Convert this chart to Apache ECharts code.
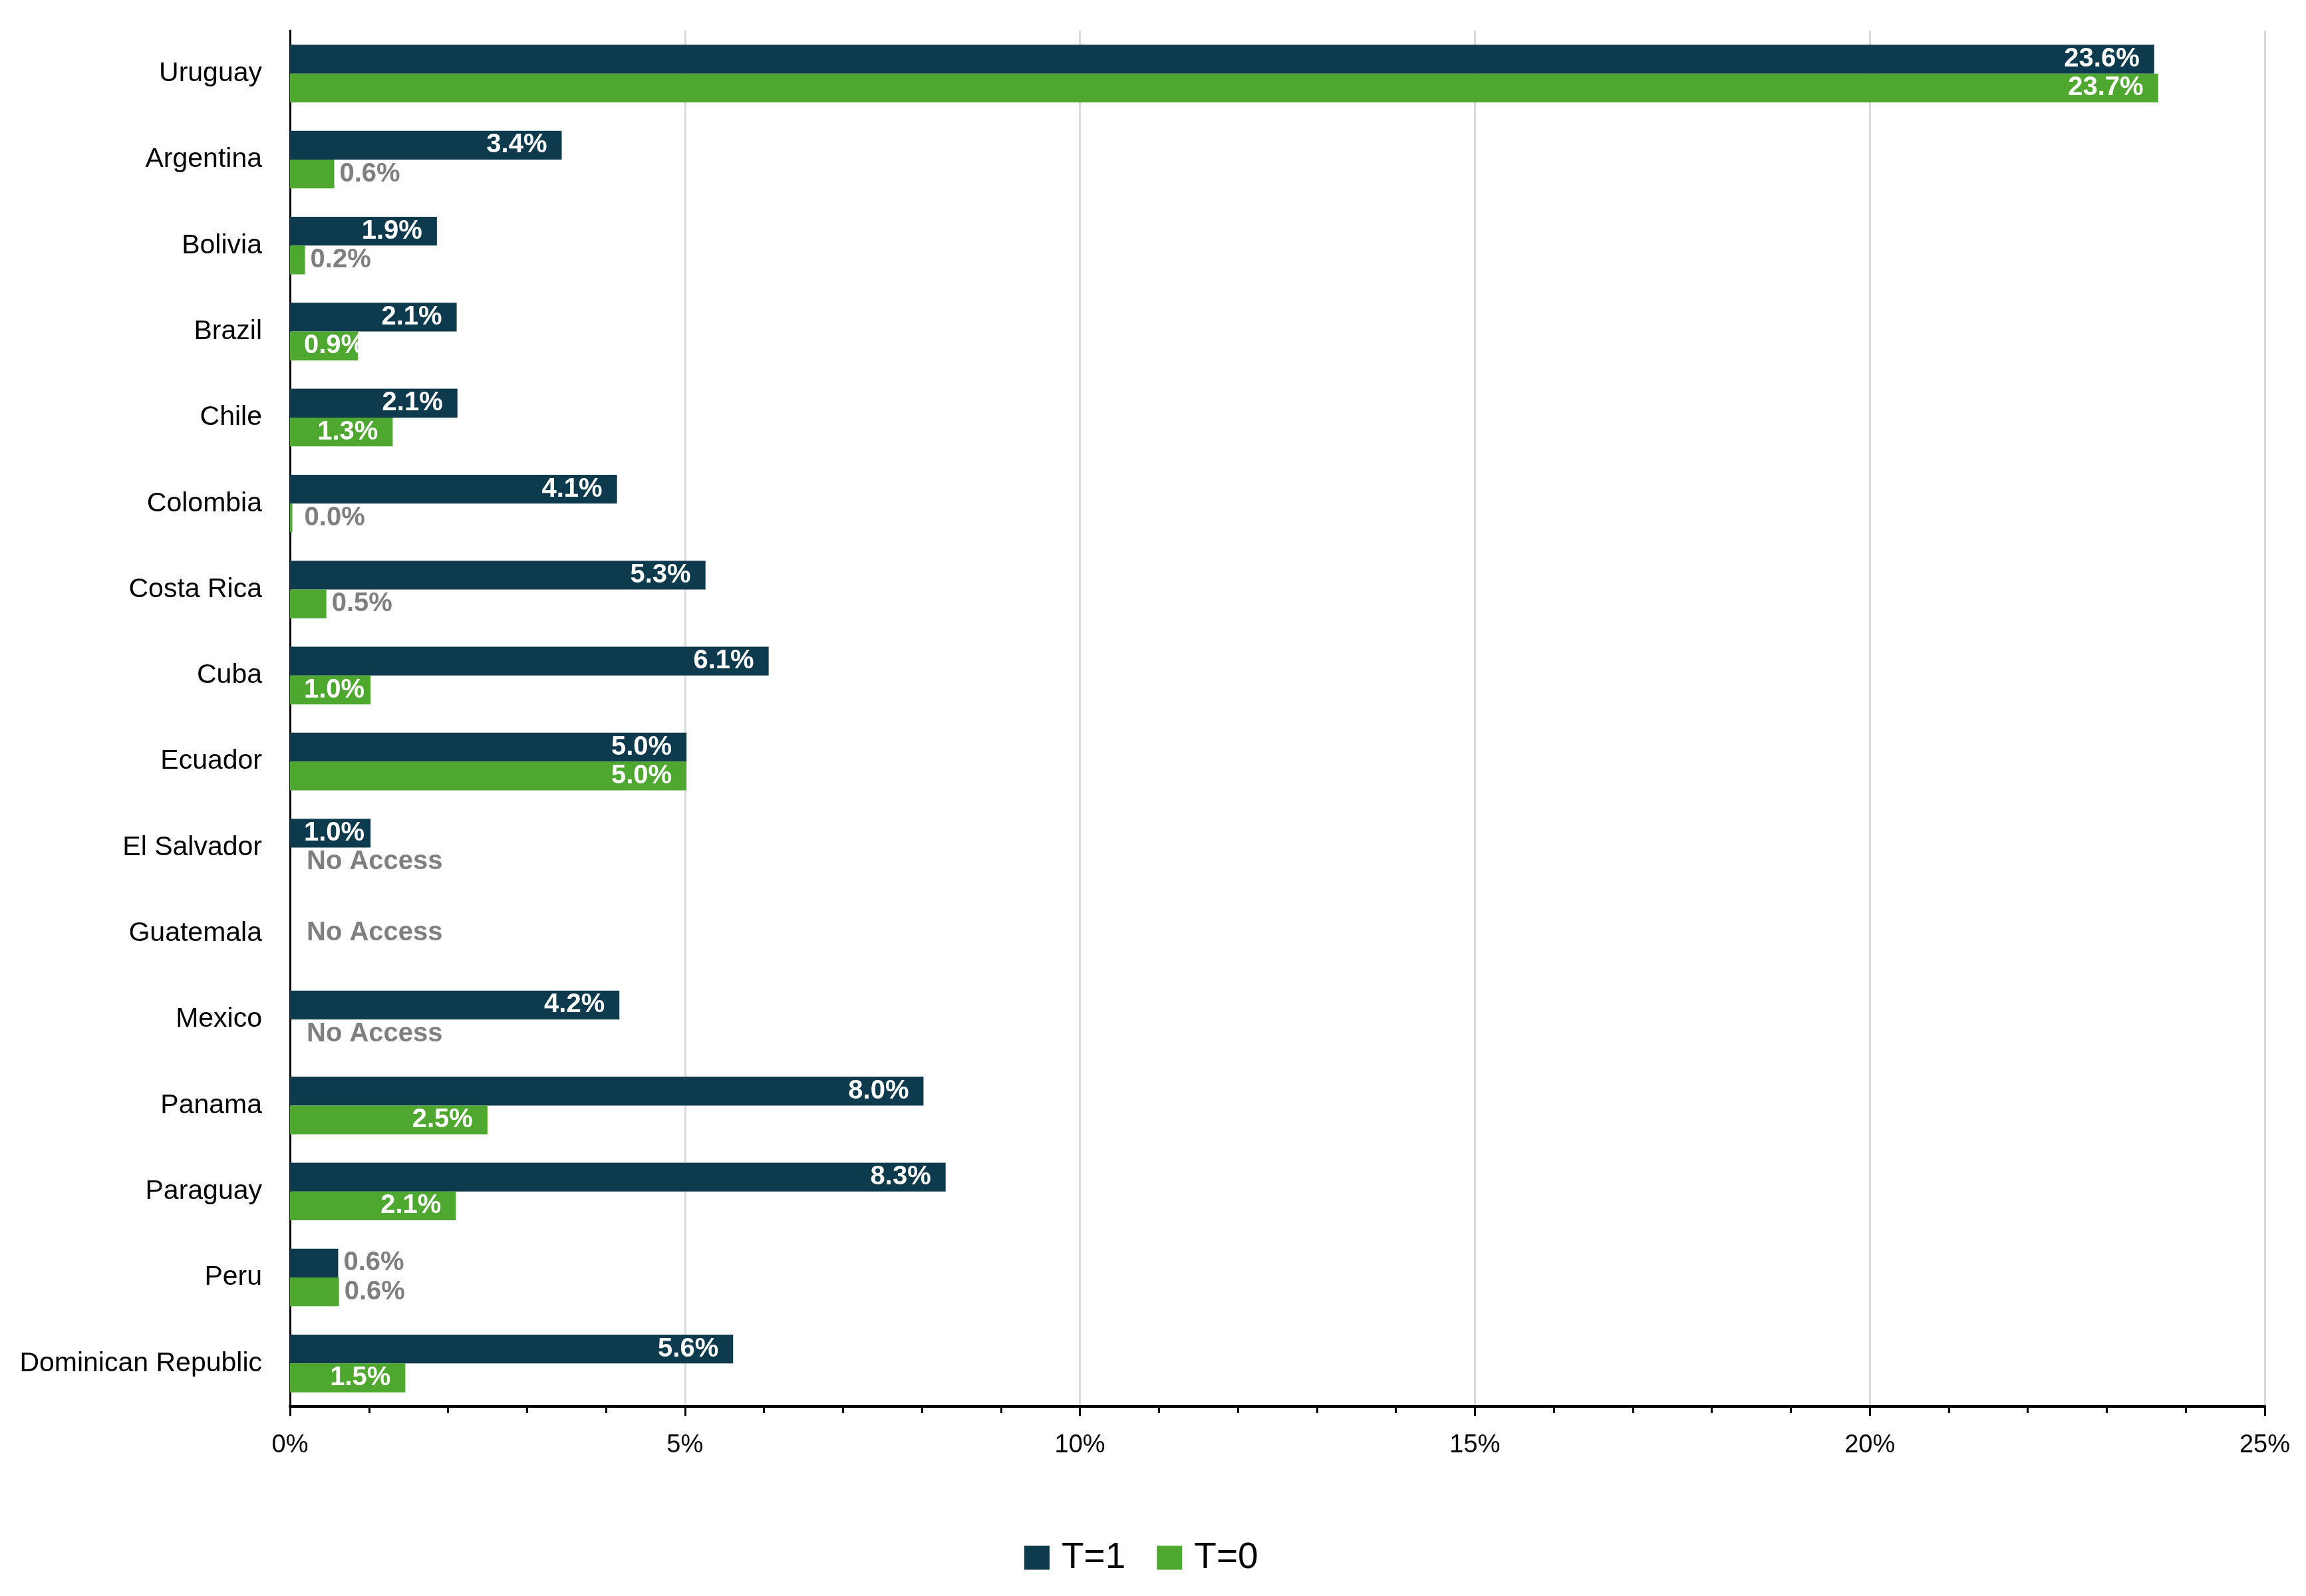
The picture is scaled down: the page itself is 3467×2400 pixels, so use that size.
<!DOCTYPE html>
<html>
<head>
<meta charset="utf-8">
<script src="https://cdn.jsdelivr.net/npm/echarts@6/dist/echarts.min.js"></script>
<style>
html,body{margin:0;padding:0;background:#fff;}
#chart{width:3467px;height:2400px;}
</style>
</head>
<body>
<div id="chart"></div>
<script>
const categories = ['Uruguay','Argentina','Bolivia','Brazil','Chile','Colombia','Costa Rica','Cuba','Ecuador','El Salvador','Guatemala','Mexico','Panama','Paraguay','Peru','Dominican Republic'];
const seriesNames = ['T=1','T=0'];
// null = "No Access"
const t1Values = [23.6, 3.44, 1.86, 2.11, 2.12, 4.14, 5.26, 6.06, 5.02, 1.02, null, 4.17, 8.02, 8.3, 0.61, 5.61];
const t0Values = [23.65, 0.56, 0.19, 0.86, 1.30, 0.03, 0.46, 1.02, 5.02, null, null, null, 2.50, 2.10, 0.62, 1.46];
const xTicks = [0, 5, 10, 15, 20, 25];
const noAccessText = 'No Access';

const DARK = '#0e3a4e';
const GREEN = '#4ea72e';
const GRAY = '#7f7f7f';
const FONT = 'Liberation Sans, Arial, sans-serif';

function labelFor(v, isGuatemalaCenter) {
  const base = {show: true, fontFamily: FONT, fontWeight: 'bold', fontSize: 40};
  if (v === null) {
    return Object.assign(base, {position: 'right', distance: 25, color: GRAY,
      formatter: noAccessText, offset: isGuatemalaCenter ? [0, -22] : [0, 0]});
  }
  const txt = (Math.round(v * 10 + 1e-6) / 10).toFixed(1) + '%';
  if (v < 0.1) return Object.assign(base, {position: 'right', distance: 18, color: GRAY, formatter: txt});
  if (v < 0.8) return Object.assign(base, {position: 'right', distance: 8, color: GRAY, formatter: txt});
  if (v < 1.2) return Object.assign(base, {position: 'insideLeft', distance: 21, color: '#fff', formatter: txt});
  return Object.assign(base, {position: 'insideRight', distance: 22, color: '#fff', formatter: txt});
}

function buildData(values, otherValues, isT0) {
  return values.map((v, i) => {
    if (v === null) {
      const both = otherValues[i] === null;
      if (both && !isT0) return {value: 0, label: {show: false}};
      return {value: 0, label: labelFor(null, both)};
    }
    return {value: v, label: labelFor(v, false)};
  });
}

const chart = echarts.init(document.getElementById('chart'), null, {renderer: 'canvas'});
chart.setOption({
  animation: false,
  backgroundColor: '#fff',
  grid: {left: 436, right: 62, top: 46, bottom: 285, containLabel: false},
  legend: {
    data: seriesNames,
    left: 1535, top: 2310,
    icon: 'rect', itemWidth: 38, itemHeight: 36, itemGap: 47,
    textStyle: {fontFamily: FONT, fontSize: 55, color: '#000', padding: [0, 0, 0, 13], lineHeight: 55}
  },
  xAxis: {
    type: 'value', min: xTicks[0], max: xTicks[xTicks.length - 1], interval: xTicks[1] - xTicks[0],
    axisLine: {show: true, lineStyle: {color: '#000', width: 4}},
    axisTick: {show: true, length: 14, lineStyle: {color: '#000', width: 3}},
    minorTick: {show: true, splitNumber: 5, length: 10, lineStyle: {color: '#000', width: 3}},
    splitLine: {show: true, lineStyle: {color: '#d9d9d9', width: 3}},
    axisLabel: {formatter: '{value}%', fontFamily: FONT, fontSize: 38, color: '#000', margin: 40}
  },
  yAxis: {
    type: 'category', data: categories, inverse: true,
    axisLine: {show: true, lineStyle: {color: '#000', width: 3}},
    axisTick: {show: false},
    axisLabel: {fontFamily: FONT, fontSize: 41, color: '#000', margin: 42}
  },
  series: [
    {name: seriesNames[0], type: 'bar', data: buildData(t1Values, t0Values, false),
     itemStyle: {color: DARK}, barGap: '0%', barCategoryGap: '33%'},
    {name: seriesNames[1], type: 'bar', data: buildData(t0Values, t1Values, true),
     itemStyle: {color: GREEN}, barGap: '0%', barCategoryGap: '33%'}
  ]
});
</script>
</body>
</html>
